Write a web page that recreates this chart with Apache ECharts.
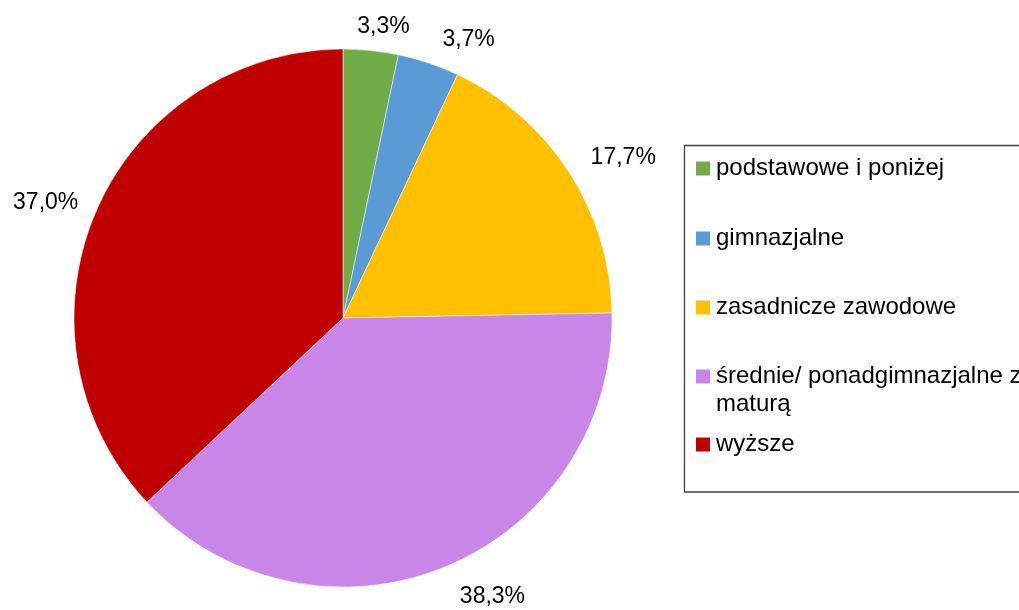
<!DOCTYPE html>
<html>
<head>
<meta charset="utf-8">
<script src="https://cdn.jsdelivr.net/npm/echarts@6/dist/echarts.min.js"></script>
<style>
html,body{margin:0;padding:0;background:#fff;}
#chart{width:1019px;height:610px;}
</style>
</head>
<body>
<div id="chart"></div>
<script>
const categories = ['podstawowe i poniżej', 'gimnazjalne', 'zasadnicze zawodowe', 'średnie/ ponadgimnazjalne z maturą', 'wyższe'];
const values = [3.3, 3.7, 17.7, 38.3, 37.0];
const colors = ['#70AD47', '#5B9BD5', '#FFC000', '#C886E8', '#C00000'];

const CX = 343, CY = 318, R = 269;
const FONT = 'Liberation Sans, Arial, sans-serif';
// small label nudges (Excel best-fit placement)
const labelNudge = [[8, 6], [26, 5], [12, 2], [29, 2], [-4, 3]];
const legendTops = [167, 237, 306, 375, 443];

const chart = echarts.init(document.getElementById('chart'), null, {renderer: 'canvas'});

const legends = categories.map((name, i) => {
  const twoLine = i === 3;
  return {
    orient: 'vertical',
    left: 694,
    top: twoLine ? legendTops[i] - 42 + 1.5 : legendTops[i] - 14 + 1.5,
    padding: 0,
    icon: 'rect',
    itemWidth: 16,
    itemHeight: 16,
    selectedMode: false,
    data: [name],
    formatter: twoLine ? () => ' \nśrednie/ ponadgimnazjalne z\nmaturą' : undefined,
    textStyle: {
      fontFamily: FONT,
      fontSize: 24,
      color: '#000',
      lineHeight: 28
    }
  };
});

chart.setOption({
  animation: false,
  backgroundColor: '#fff',
  color: colors,
  legend: legends,
  graphic: [{
    type: 'rect',
    z: -1,
    shape: {x: 684.5, y: 145.5, width: 400, height: 346.5},
    style: {fill: 'none', stroke: '#404040', lineWidth: 1.3}
  }],
  series: [{
    type: 'pie',
    center: [CX, CY],
    radius: [0, R],
    startAngle: 90,
    clockwise: true,
    avoidLabelOverlap: false,
    itemStyle: {borderColor: '#ffffff', borderWidth: 0.5},
    label: {
      show: true,
      position: 'outside',
      fontFamily: FONT,
      fontSize: 23,
      color: '#000',
      formatter: p => p.value.toFixed(1).replace('.', ',') + '%'
    },
    labelLine: {show: false, length: 10, length2: 0},
    labelLayout: function (params) {
      const pts = params.labelLinePoints;
      const w = params.labelRect.width, h = params.labelRect.height;
      if (!pts) return {};
      let dx = pts[0][0] - CX, dy = pts[0][1] - CY;
      const len = Math.sqrt(dx * dx + dy * dy) || 1;
      dx /= len; dy /= len;
      const D = 287;
      const n = labelNudge[params.dataIndex] || [0, 0];
      return {
        x: CX + dx * D + dx * w / 2 + n[0],
        y: CY + dy * D + dy * h / 2 + n[1],
        align: 'center',
        verticalAlign: 'middle'
      };
    },
    emphasis: {disabled: true},
    data: categories.map((c, i) => ({name: c, value: values[i]}))
  }]
});
</script>
</body>
</html>
